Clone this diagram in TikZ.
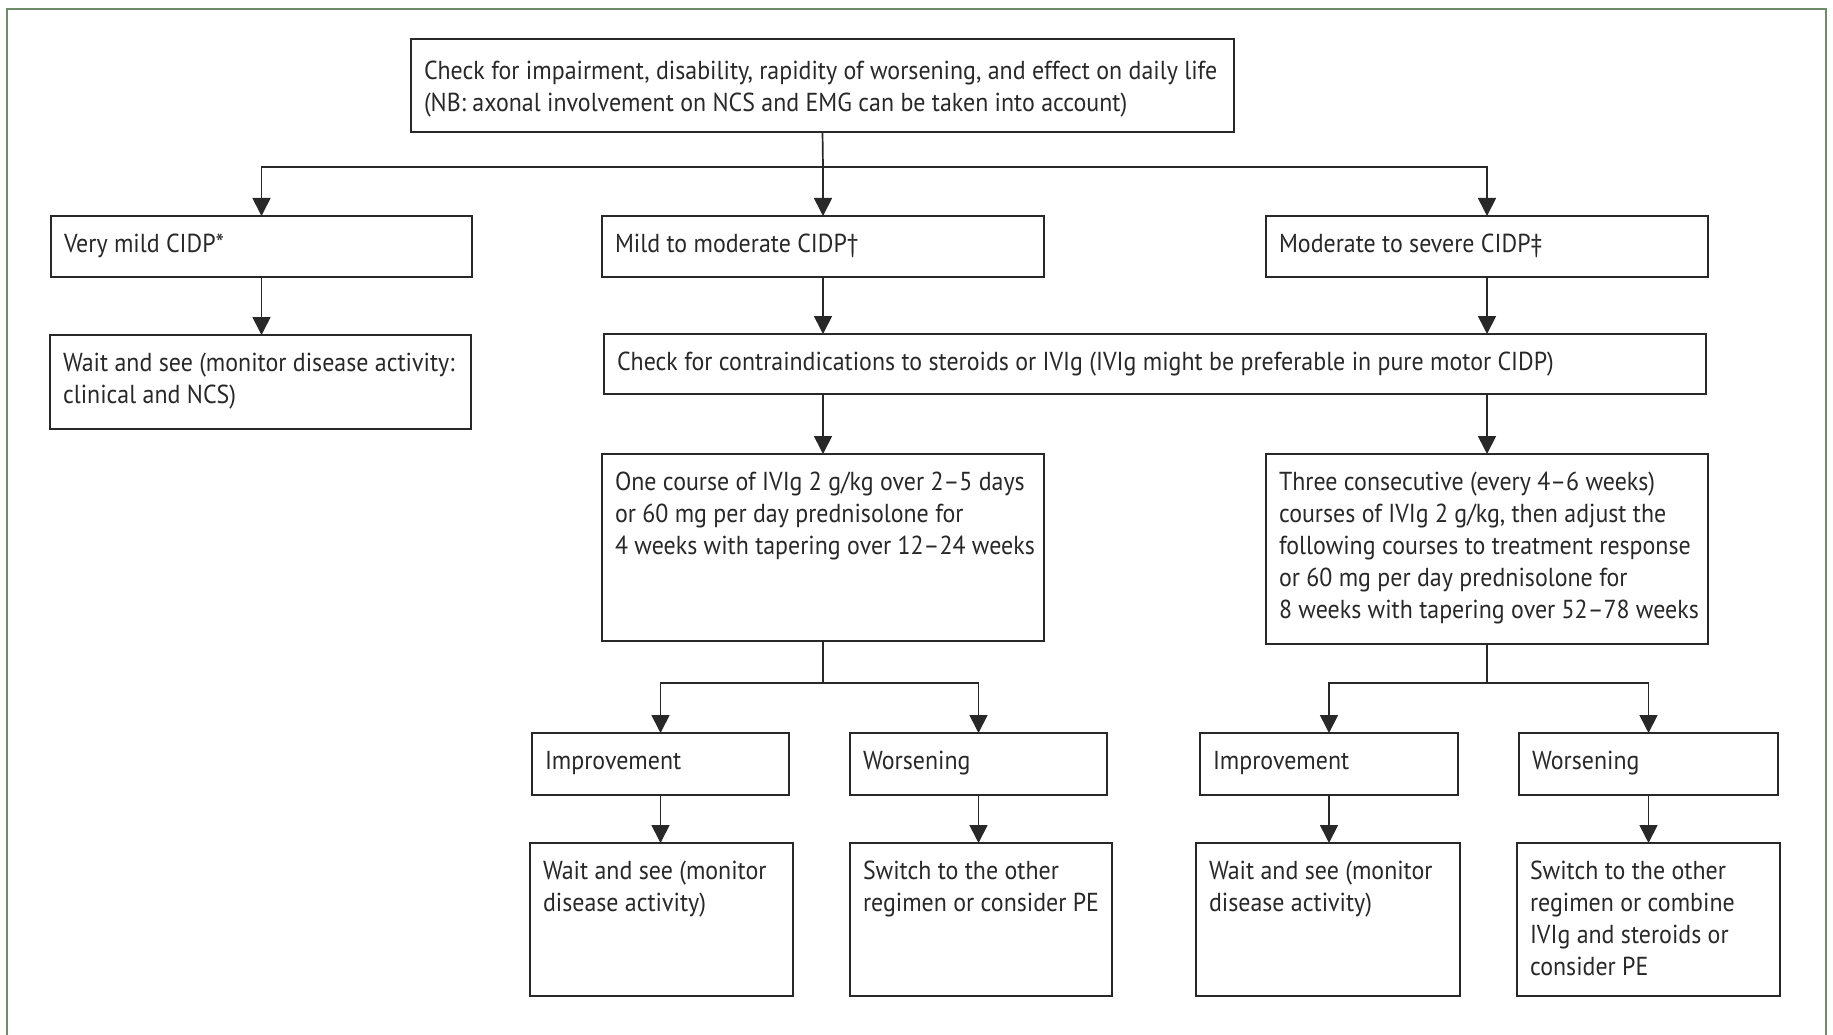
\documentclass[tikz,border=0pt]{standalone}
\usepackage{fontspec}
\setmainfont{PT Sans}[FakeStretch=0.92]
\usetikzlibrary{arrows.meta}
\definecolor{frame}{RGB}{110,140,104}
\definecolor{ink}{RGB}{40,40,40}
\tikzset{
 boxst/.style={draw=ink, line width=1.7pt, inner sep=0pt, outer sep=0pt, text=ink},
 conn/.style={draw=ink, line width=1.7pt},
 arr/.style={conn, -{Triangle[width=18pt,length=18pt]}},
 framest/.style={draw=frame, line width=2pt},
}
\newcommand\firstsk{36pt}
\newcommand\bx[6]{\node[boxst, anchor=north west] (#1) at (#2,#3) {\parbox[c][#5pt][t]{#4pt}{\fontsize{26}{32}\selectfont\leftskip=13pt\rightskip=0pt plus 1fil\parindent=0pt\rule{0pt}{\firstsk}#6}};}
\begin{document}
\begin{tikzpicture}[x=1pt,y=-1pt]
\useasboundingbox (0,0) rectangle (1833,1035);
\fill[white] (0,0) rectangle (1833,1035);
\draw[framest] (7,1040) -- (7,9) -- (1826,9) -- (1826,1040);

\renewcommand\firstsk{41pt}
\bx{top}{411}{39}{823}{93}{Check for impairment, disability, rapidity of worsening, and effect on daily life\\(NB: axonal involvement on NCS and EMG can be taken into account)}
\renewcommand\firstsk{36pt}
\bx{vmild}{51}{216}{421}{61}{Very mild CIDP*}
\bx{mild}{602}{216}{442}{61}{Mild to moderate CIDP†}
\bx{sev}{1266}{216}{442}{61}{Moderate to severe CIDP‡}
\bx{wait0}{50}{335}{421}{94}{Wait and see (monitor disease activity:\\clinical and NCS)}
\bx{contra}{604}{334}{1102}{60}{Check for contraindications to steroids or IVIg (IVIg might be preferable in pure motor CIDP)}
\bx{course1}{602}{454}{442}{187}{One course of IVIg 2 g/kg over 2–5 days\\or 60 mg per day prednisolone for\\4 weeks with tapering over 12–24 weeks}
\bx{course3}{1266}{454}{442}{190}{Three consecutive (every 4–6 weeks)\\courses of IVIg 2 g/kg, then adjust the\\following courses to treatment response\\or 60 mg per day prednisolone for\\8 weeks with tapering over 52–78 weeks}
\bx{impL}{532}{733}{257}{62}{Improvement}
\bx{worL}{850}{733}{257}{62}{Worsening}
\bx{impR}{1200}{733}{258}{62}{Improvement}
\bx{worR}{1519}{733}{259}{62}{Worsening}
\bx{waitL}{530}{843}{263}{153}{Wait and see (monitor\\disease activity)}
\bx{swL}{850}{843}{262}{153}{Switch to the other\\regimen or consider PE}
\bx{waitR}{1196}{843}{264}{153}{Wait and see (monitor\\disease activity)}
\bx{swR}{1517}{843}{263}{153}{Switch to the other\\regimen or combine\\IVIg and steroids or\\consider PE}

\coordinate (j1) at (823,167);
\coordinate (j2) at (823,683);
\coordinate (j3) at (1487,683);
\draw[conn] (top.south) -- (j1);
\draw[arr] (j1) -| (vmild.north);
\draw[arr] (j1) -- (mild.north);
\draw[arr] (j1) -| (sev.north);
\draw[arr] (vmild.south) -- (vmild.south |- wait0.north);
\draw[arr] (mild.south) -- (mild.south |- contra.north);
\draw[arr] (sev.south) -- (sev.south |- contra.north);
\draw[arr] (contra.south -| course1.north) -- (course1.north);
\draw[arr] (contra.south -| course3.north) -- (course3.north);
\draw[conn] (course1.south) -- (j2);
\draw[arr] (j2) -| (impL.north);
\draw[arr] (j2) -| (worL.north);
\draw[conn] (course3.south) -- (j3);
\draw[arr] (j3) -| (impR.north);
\draw[arr] (j3) -| (worR.north);
\draw[arr] (impL.south) -- (impL.south |- waitL.north);
\draw[arr] (worL.south) -- (worL.south |- swL.north);
\draw[arr] (impR.south) -- (impR.south |- waitR.north);
\draw[arr] (worR.south) -- (worR.south |- swR.north);
\end{tikzpicture}
\end{document}
